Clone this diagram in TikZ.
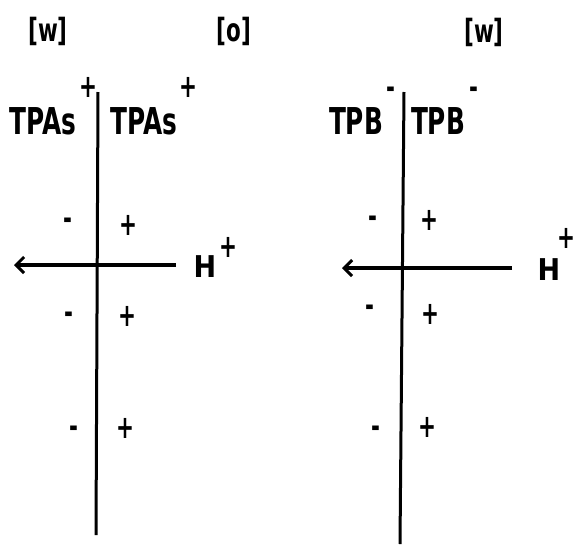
\documentclass[tikz,border=0pt]{standalone}
\usepackage{fontspec}
\setmainfont{DejaVu Sans}
\newfontfamily\cf[FakeStretch=0.67,BoldFont={DejaVu Sans Bold}]{DejaVu Sans}
\newfontfamily\hf[FakeStretch=0.9,BoldFont={DejaVu Sans Bold}]{DejaVu Sans}
\usetikzlibrary{arrows.meta}
\tikzset{
  big/.style={font=\cf\bfseries\fontsize{37}{40}\selectfont, inner sep=0pt},
  brk/.style={font=\cf\bfseries\fontsize{32}{34}\selectfont, inner sep=0pt},
  hion/.style={font=\hf\bfseries\fontsize{30}{32}\selectfont, inner sep=0pt},
  chg/.style={font=\cf\bfseries\fontsize{32}{34}\selectfont, inner sep=0pt},
  neg/.style={chg, yshift=-6pt},
  memb/.style={line width=3pt},
  flow/.style={line width=4pt, -{Straight Barb[length=8pt,width=16pt,line width=3pt]}}
}
\begin{document}
\begin{tikzpicture}[x=1pt,y=-1pt]
\useasboundingbox (0,0) rectangle (576,544);
% compartment labels
\node[brk] (w1) at (48,31) {[w]};
\node[brk] (o1) at (234,31) {[o]};
\node[brk] (w2) at (484,32) {[w]};
% left membrane
\coordinate (m1t) at (98,92);
\coordinate (m1b) at (96,535);
\draw[memb] (m1t) -- (m1b);
\node[big] (tpa1) at (43,121) {TPAs};
\node[chg] (tpa1c) at (88,87) {+};
\node[big] (tpa2) at (144,121) {TPAs};
\node[chg] (tpa2c) at (188,87) {+};
\coordinate (a1s) at (176,265);
\coordinate (a1e) at (14,265);
\draw[flow] (a1s) -- (a1e);
\node[hion] (h1) at (205,267) {H};
\node[chg] (h1c) at (228,247) {+};
\node[neg] (l1a) at (68,218) {-};
\node[chg] (r1a) at (128,225) {+};
\node[neg] (l1b) at (69,312) {-};
\node[chg] (r1b) at (127,316) {+};
\node[neg] (l1c) at (74,426) {-};
\node[chg] (r1c) at (125,428) {+};
% right membrane
\coordinate (m2t) at (404,92);
\coordinate (m2b) at (400,544);
\draw[memb] (m2t) -- (m2b);
\node[big] (tpb1) at (356,121) {TPB};
\node[neg] (tpb1c) at (391,87) {-};
\node[big] (tpb2) at (438,121) {TPB};
\node[neg] (tpb2c) at (474,87) {-};
\coordinate (a2s) at (512,268);
\coordinate (a2e) at (342,268);
\draw[flow] (a2s) -- (a2e);
\node[hion] (h2) at (549,270) {H};
\node[chg] (h2c) at (566,238) {+};
\node[neg] (l2a) at (373,216) {-};
\node[chg] (r2a) at (429,220) {+};
\node[neg] (l2b) at (370,305) {-};
\node[chg] (r2b) at (430,314) {+};
\node[neg] (l2c) at (376,426) {-};
\node[chg] (r2c) at (427,427) {+};
\end{tikzpicture}
\end{document}
